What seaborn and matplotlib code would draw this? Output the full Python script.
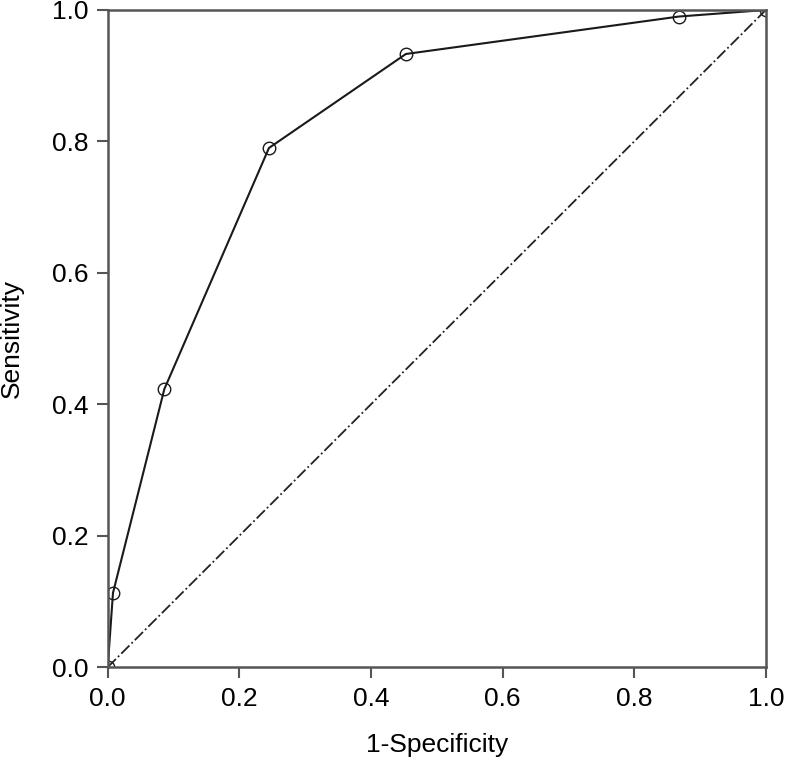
import pandas as pd
import matplotlib.pyplot as plt
import seaborn as sns

# Puntos de la curva ROC
fpr = [0.0, 0.008, 0.086, 0.245, 0.453, 0.868, 1.0]
tpr = [0.0, 0.113, 0.423, 0.790, 0.933, 0.990, 1.0]
ticks = [0.0, 0.2, 0.4, 0.6, 0.8, 1.0]

df = pd.DataFrame({'1-Specificity': fpr, 'Sensitivity': tpr})

sns.set_style('white')
plt.rcParams['font.family'] = ['Liberation Sans', 'DejaVu Sans']
plt.rcParams['text.color'] = 'black'
plt.rcParams['axes.labelcolor'] = 'black'
plt.rcParams['xtick.color'] = 'black'
plt.rcParams['ytick.color'] = 'black'

fig = plt.figure(figsize=(7.92, 7.66), dpi=100)
ax = fig.add_axes([0.136, 0.129, 0.831, 0.858])

# Línea de referencia (diagonal)
sns.lineplot(x=[0, 1], y=[0, 1], ax=ax, color='#222222', linestyle='-.',
             linewidth=1.3, dashes=False)

# Curva ROC
sns.lineplot(data=df, x='1-Specificity', y='Sensitivity', ax=ax,
             color='#1a1a1a', linewidth=1.5, marker='o', markersize=9,
             markerfacecolor='none', markeredgecolor='#1a1a1a',
             markeredgewidth=1.0)

ax.set_xlim(0, 1)
ax.set_ylim(0, 1)
ax.set_xticks(ticks)
ax.set_yticks(ticks)
ax.set_xticklabels([f'{t:.1f}' for t in ticks])
ax.set_yticklabels([f'{t:.1f}' for t in ticks])
ax.tick_params(axis='both', direction='out', length=8, width=1.5,
               color='#555555', labelcolor='black', labelsize=19, pad=6,
               bottom=True, left=True)

for s in ax.spines.values():
    s.set_color('#555555')
    s.set_linewidth(1.8)

ax.set_xlabel('1-Specificity', fontsize=19, labelpad=16, color='black')
ax.set_ylabel('Sensitivity', fontsize=19, labelpad=20, color='black')

plt.savefig('out.png', dpi=100)
